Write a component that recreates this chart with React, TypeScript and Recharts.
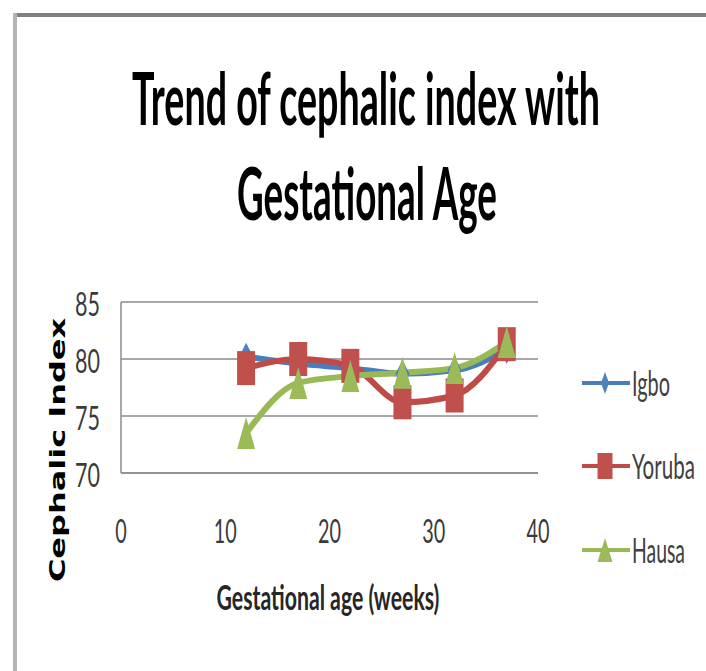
import React, { useLayoutEffect, useRef, useState } from "react";
import { LineChart, Line, XAxis, YAxis, CartesianGrid } from "recharts";

// ---- data ----
const weeks = [12, 17, 22, 27, 32, 37];
const igbo = [80.2, 79.6, 79.2, 78.7, 79.0, 80.8];
const yoruba = [79.2, 80.0, 79.4, 76.2, 76.8, 81.3];
const hausa = [73.5, 77.9, 78.5, 78.8, 79.2, 81.5];
const xTicks = [0, 10, 20, 30, 40];
const yTicks = [70, 75, 80, 85];
const seriesNames = ["Igbo", "Yoruba", "Hausa"];
const titleLines = ["Trend of cephalic index with", "Gestational Age"];
const xTitle = "Gestational age (weeks)";
const yTitle = "Cephalic Index";

const data = weeks.map((w, i) => ({
  week: w,
  Igbo: igbo[i],
  Yoruba: yoruba[i],
  Hausa: hausa[i],
}));

const styles: Record<string, { stroke: string; fill: string; shape: string; textLen: number }> = {
  Igbo: { stroke: "#4A7EBB", fill: "#4F81BD", shape: "diamond", textLen: 38 },
  Yoruba: { stroke: "#BE4B48", fill: "#C0504D", shape: "square", textLen: 63 },
  Hausa: { stroke: "#98B954", fill: "#9BBB59", shape: "triangle", textLen: 53 },
};

// Text squeezed horizontally to a target width (measured after render)
function FitText({ x, y, width, anchor = "start", rotate = 0, children, ...rest }: any) {
  const ref = useRef<SVGTextElement>(null);
  const [sx, setSx] = useState(1);
  useLayoutEffect(() => {
    if (ref.current) {
      const w = ref.current.getBBox().width;
      if (w > 0) setSx(width / w);
    }
  }, [width, children]);
  return (
    <text
      ref={ref}
      x={0}
      y={0}
      textAnchor={anchor}
      transform={`translate(${x},${y}) rotate(${rotate}) scale(${sx},1)`}
      {...rest}
    >
      {children}
    </text>
  );
}

function Marker({ cx, cy, shape, fill, w, h }: any) {
  if (cx == null || cy == null) return null;
  if (shape === "square") {
    return <rect x={cx - w / 2} y={cy - h / 2} width={w} height={h} fill={fill} />;
  }
  if (shape === "triangle") {
    return (
      <polygon
        points={`${cx},${cy - h / 2} ${cx + w / 2},${cy + h / 2} ${cx - w / 2},${cy + h / 2}`}
        fill={fill}
      />
    );
  }
  return (
    <polygon
      points={`${cx},${cy - h / 2} ${cx + w / 2},${cy} ${cx},${cy + h / 2} ${cx - w / 2},${cy}`}
      fill={fill}
    />
  );
}

const markerSize: Record<string, [number, number]> = {
  diamond: [14, 28],
  square: [18, 34],
  triangle: [18, 32],
};

const XTick = ({ x, y, payload }: any) => {
  const s = String(payload.value);
  return (
    <FitText
      x={x}
      y={y + 70}
      width={11.5 * s.length}
      anchor="middle"
      fontFamily="Lato"
      fontSize={32}
      fill="#3a3a3a"
    >
      {s}
    </FitText>
  );
};

const YTick = ({ x, y, payload }: any) => {
  const s = String(payload.value);
  return (
    <FitText
      x={x - 21}
      y={y + 14}
      width={12.5 * s.length}
      anchor="end"
      fontFamily="Lato"
      fontSize={32}
      fill="#3a3a3a"
    >
      {s}
    </FitText>
  );
};

const legendY = [383, 466, 550];

const legendMarker: Record<string, [number, number]> = {
  diamond: [8, 22],
  square: [15, 26],
  triangle: [15, 24],
};

export default function App() {
  return (
    <div
      style={{
        position: "absolute",
        left: 0,
        top: 0,
        width: 706,
        height: 671,
        background: "#ffffff",
        overflow: "hidden",
      }}
    >
      <div style={{ position: "absolute", left: 13, top: 13, width: 693, height: 4, background: "#808080" }} />
      <div style={{ position: "absolute", left: 13, top: 13, width: 4, height: 658, background: "#b4b4b4" }} />
      <div style={{ position: "absolute", left: 0, top: 0 }}>
        <LineChart
          width={706}
          height={671}
          data={data}
          margin={{ top: 302, right: 168, bottom: 138, left: 61 }}
        >
          <CartesianGrid horizontal vertical={false} stroke="#8c8c8c" strokeWidth={1.5} />
          <XAxis
            dataKey="week"
            type="number"
            domain={[0, 40]}
            ticks={xTicks}
            tickLine={false}
            tickSize={0}
            tickMargin={0}
            height={60}
            axisLine={{ stroke: "#8c8c8c", strokeWidth: 1.5 }}
            tick={<XTick />}
            interval={0}
          />
          <YAxis
            type="number"
            domain={[70, 85]}
            ticks={yTicks}
            tickLine={false}
            tickSize={0}
            tickMargin={0}
            width={60}
            axisLine={{ stroke: "#8c8c8c", strokeWidth: 1.5 }}
            tick={<YTick />}
            interval={0}
          />
          {seriesNames.map((name) => {
            const st = styles[name];
            const [w, h] = markerSize[st.shape];
            return (
              <Line
                key={name}
                dataKey={name}
                type="monotone"
                stroke={st.stroke}
                strokeWidth={6}
                isAnimationActive={false}
                dot={(p: any) => (
                  <Marker key={`${name}-${p.index}`} cx={p.cx} cy={p.cy} shape={st.shape} fill={st.fill} w={w} h={h} />
                )}
                activeDot={false}
              />
            );
          })}
        </LineChart>
      </div>
      <svg
        width={706}
        height={671}
        style={{ position: "absolute", left: 0, top: 0, pointerEvents: "none" }}
      >
        <FitText
          x={366}
          y={125}
          width={468}
          anchor="middle"
          fontFamily="Lato"
          fontWeight={700}
          fontSize={72}
          fill="#000"
        >
          {titleLines[0]}
        </FitText>
        <FitText
          x={367}
          y={220}
          width={260}
          anchor="middle"
          fontFamily="Lato"
          fontWeight={700}
          fontSize={72}
          fill="#000"
        >
          {titleLines[1]}
        </FitText>
        <FitText
          x={328}
          y={610}
          width={223}
          anchor="middle"
          fontFamily="Lato"
          fontWeight={700}
          fontSize={35}
          fill="#262626"
        >
          {xTitle}
        </FitText>
        <FitText
          x={65}
          y={450}
          width={265}
          rotate={-90}
          anchor="middle"
          fontFamily="DejaVu Sans"
          fontWeight={700}
          fontSize={21}
          fill="#000"
        >
          {yTitle}
        </FitText>
        {seriesNames.map((name, i) => {
          const st = styles[name];
          const y = legendY[i];
          const [w, h] = legendMarker[st.shape];
          return (
            <g key={name}>
              <line x1={582} y1={y} x2={630} y2={y} stroke={st.stroke} strokeWidth={4} />
              <Marker cx={605} cy={y} shape={st.shape} fill={st.fill} w={w} h={h} />
              <FitText
                x={632}
                y={y + 13}
                width={st.textLen}
                fontFamily="Lato"
                fontSize={35}
                fill="#404040"
              >
                {name}
              </FitText>
            </g>
          );
        })}
      </svg>
    </div>
  );
}
